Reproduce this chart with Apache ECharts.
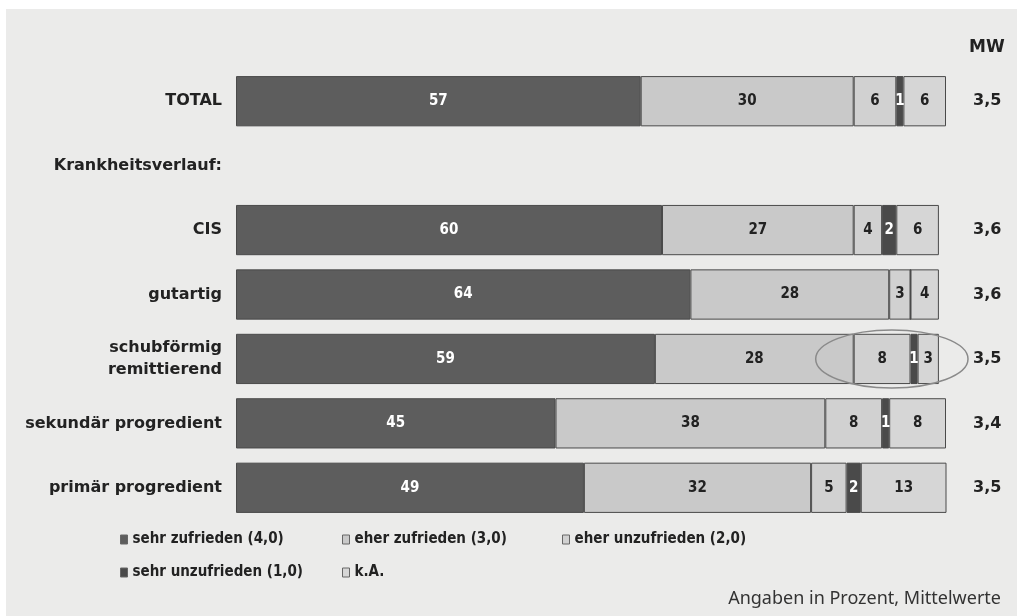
<!DOCTYPE html>
<html>
<head>
<meta charset="utf-8">
<script src="https://cdn.jsdelivr.net/npm/echarts@6/dist/echarts.min.js"></script>
<style>
  html, body { margin: 0; padding: 0; background: #fff; }
  #chart { width: 1017px; height: 616px; }
</style>
</head>
<body>
<div id="chart"></div>
<script>
// Zufriedenheit nach Krankheitsverlauf (Angaben in Prozent)
const categories = ['TOTAL', 'Krankheitsverlauf:', 'CIS', 'gutartig', 'schubförmig\nremittierend', 'sekundär progredient', 'primär progredient'];
const sehrZufrieden = [57, null, 60, 64, 59, 45, 49];
const eherZufrieden = [30, null, 27, 28, 28, 38, 32];
const eherUnzufrieden = [6, null, 4, 3, 8, 8, 5];
const sehrUnzufrieden = [1, null, 2, 0, 1, 1, 2];
const keineAngabe = [6, null, 6, 4, 3, 8, 13];
const mittelwerte = ['3,5', '', '3,6', '3,6', '3,5', '3,4', '3,5'];

const font = 'DejaVu Sans';
const fontNarrow = '"DejaVu Sans Condensed", "DejaVu Sans"';

function seg (name, data, color, labelColor) {
  return {
    name: name,
    type: 'bar',
    stack: 'total',
    barWidth: '78%',
    data: data,
    itemStyle: { color: color, borderColor: '#4a4a4a', borderWidth: 1 },
    label: {
      show: true,
      position: 'inside',
      color: labelColor,
      fontFamily: fontNarrow,
      fontWeight: 'bold',
      fontSize: 15,
      formatter: p => (p.value ? p.value : '')
    }
  }
}

function legendBlock (left, names) {
  return {
    left: left,
    top: 526,
    orient: 'vertical',
    itemGap: 16,
    icon: 'rect',
    itemWidth: 7,
    itemHeight: 9,
    itemStyle: { borderColor: '#666', borderWidth: 1 },
    textStyle: { fontFamily: fontNarrow, fontWeight: 'bold', fontSize: 15, lineHeight: 17, color: '#222' },
    data: names
  }
}

const chart = echarts.init(document.getElementById('chart'))

const option = {
  backgroundColor: '#fff',
  animation: false,
  title: [
    {
      text: 'MW', left: 964, top: 34,
      textStyle: { fontFamily: font, fontWeight: 'bold', fontSize: 17, color: '#222' }
    },
    {
      text: 'Angaben in Prozent, Mittelwerte', right: 11, bottom: 3,
      textStyle: { fontFamily: 'Noto Sans', fontWeight: 'normal', fontSize: 18, color: '#333' }
    }
  ],
  legend: [
    legendBlock(115, ['sehr zufrieden (4,0)', 'sehr unzufrieden (1,0)']),
    legendBlock(337, ['eher zufrieden (3,0)', 'k.A.']),
    legendBlock(557, ['eher unzufrieden (2,0)'])
  ],
  grid: { left: 236, right: 71, top: 69, bottom: 96 },
  xAxis: { type: 'value', min: 0, max: 100, show: false },
  yAxis: [
    {
      type: 'category',
      data: categories,
      inverse: true,
      axisLine: { show: false },
      axisTick: { show: false },
      axisLabel: {
        margin: 14,
        fontFamily: font,
        fontWeight: 'bold',
        fontSize: 16,
        lineHeight: 22,
        color: '#222'
      }
    },
    {
      type: 'category',
      data: categories,
      inverse: true,
      position: 'right',
      axisLine: { show: false },
      axisTick: { show: false },
      axisLabel: {
        margin: 27,
        align: 'left',
        fontFamily: font,
        fontWeight: 'bold',
        fontSize: 16,
        color: '#222',
        formatter: (v, i) => mittelwerte[i]
      }
    }
  ],
  series: [
    seg('sehr zufrieden (4,0)', sehrZufrieden, '#5d5d5d', '#fff'),
    seg('eher zufrieden (3,0)', eherZufrieden, '#c9c9c9', '#222'),
    seg('eher unzufrieden (2,0)', eherUnzufrieden, '#d1d1d1', '#222'),
    seg('sehr unzufrieden (1,0)', sehrUnzufrieden, '#4a4a4a', '#fff'),
    seg('k.A.', keineAngabe, '#d6d6d6', '#222')
  ]
}

chart.setOption(option)

// grauer Hintergrund und Markierung um "schubförmig remittierend" (unzufrieden + k.A.)
const row = 4
const from = sehrZufrieden[row] + eherZufrieden[row]
const a = chart.convertToPixel({ gridIndex: 0 }, [from, row])
const b = chart.convertToPixel({ gridIndex: 0 }, [100, row])
chart.setOption({
  graphic: [
    { type: 'rect', z: -10, left: 6, top: 9, shape: { width: 1011, height: 607 }, style: { fill: '#ebebea' } },
    {
      type: 'ellipse',
      z: 100,
      shape: { cx: (a[0] + b[0]) / 2 - 8, cy: a[1], rx: (b[0] - a[0]) / 2 + 30, ry: 29 },
      style: { fill: 'none', stroke: '#8a8a8a', lineWidth: 1.5 }
    }
  ]
})
</script>
</body>
</html>
